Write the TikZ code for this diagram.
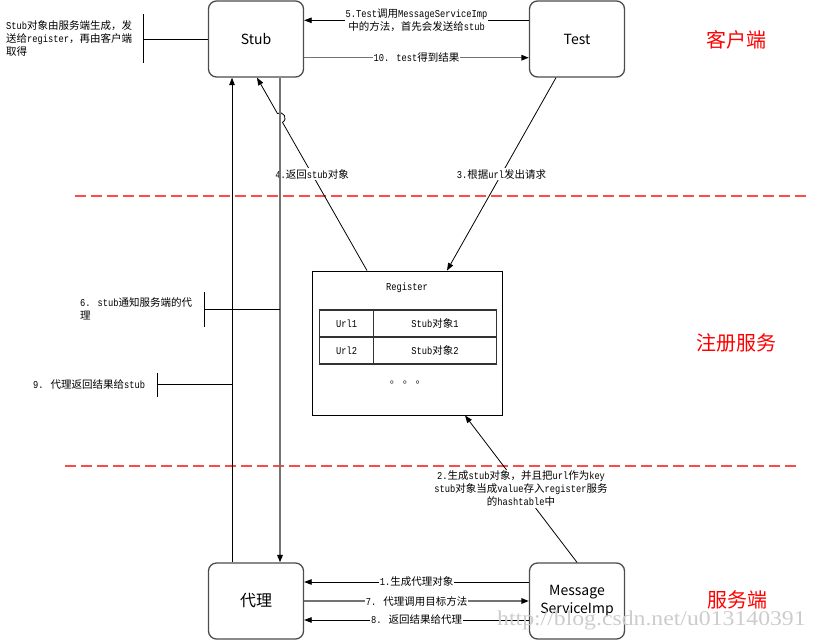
\documentclass[tikz,border=0pt]{standalone}
\usepackage{fontspec}
\usetikzlibrary{arrows.meta,calc}
\newfontfamily\cj{Noto Sans CJK SC}
\newfontfamily\mo{Liberation Mono}[FakeStretch=0.833]
\newfontfamily\wmfont{Liberation Serif}[FakeStretch=1.13]
\newcommand\C[1]{{\cj #1}}
\definecolor{sepred}{HTML}{FF4A4A}
\begin{document}
\begin{tikzpicture}[x=1pt,y=-1pt,
 box/.style={draw=black!70, line width=1.3pt, rounded corners=8pt, minimum width=95pt, minimum height=76pt, inner sep=0pt, font=\cj\fontsize{14}{18}\selectfont, align=center},
 conn/.style={draw=black, line width=0.8pt},
 arr/.style={conn, -{Triangle[length=7.5pt,width=5.5pt,color=black]}},
 garr/.style={arr, draw=black!55, line width=1.5pt},
 lab/.style={fill=white, inner sep=1pt, font=\mo\fontsize{10.5}{13}\selectfont, align=center},
 note/.style={inner sep=0pt, font=\mo\fontsize{10.5}{13}\selectfont, align=left},
 zone/.style={text=red, font=\cj\fontsize{20}{24}\selectfont},
 dashpiece/.style={fill=sepred, draw=none},
 cell/.style={draw=black!80, line width=1.2pt, minimum height=27pt, inner sep=0pt, font=\mo\fontsize{10.5}{13}\selectfont},
]
\useasboundingbox (0,0) rectangle (816,640);
% separators (dashed red lines)
\foreach \x in {75,91,...,795} {\fill[dashpiece] (\x,194.6) rectangle ++(10.5,1.9);}
\foreach \x in {65,81,...,797} {\fill[dashpiece] (\x,464.6) rectangle ++(10.5,1.9);}
% boxes
\node[box] (stub) at (256,39) {Stub};
\node[box] (test) at (577,39) {Test};
\node[box, font=\cj\fontsize{16}{18}\selectfont] (proxy) at (256,601) {代理};
\node[box] (msi) at (577,601) {Message\\ServiceImp};
\node[draw, line width=0.9pt, minimum width=190pt, minimum height=144pt] (reg) at (407,343) {};
\node[font=\mo\fontsize{10.5}{13}\selectfont] (regt) at (407,288) {Register};
\node[cell, minimum width=54pt] (u1) at (346.5,323.5) {Url1};
\node[cell, minimum width=123pt] (s1) at (435,323.5) {Stub\C{对象}1};
\node[cell, minimum width=54pt] (u2) at (346.5,350.5) {Url2};
\node[cell, minimum width=123pt] (s2) at (435,350.5) {Stub\C{对象}2};
\node[font=\cj\fontsize{10.5}{13}\selectfont] (dots) at (408,383) {。 。 。};
% zone labels
\node[zone] (z1) at (736,40) {客户端};
\node[zone] (z2) at (736,343) {注册服务};
\node[zone] (z3) at (737,600) {服务端};
% helper coordinates
\coordinate (xl) at (232,0);
\coordinate (xr) at (280,0);
\coordinate (xrb) at (280,600);
\coordinate (ya) at (0,20.3);
\coordinate (yb) at (0,57.7);
\coordinate (y1) at (0,582);
\coordinate (y7) at (0,601);
\coordinate (y8) at (0,620);
% line 4 with hop
\coordinate (r4) at ($(reg.north)+(-40,0)$);
\coordinate (s4) at ($(stub.south)+(1,0)$);
\coordinate (h) at (intersection of r4--s4 and xr--xrb);
\coordinate (h1) at ($(h)!5pt!(r4)$);
\coordinate (h2) at ($(h)!5pt!(s4)$);
\coordinate (c1) at ($(h1)!6.7pt!-90:(h)$);
\coordinate (c2) at ($(h2)!6.7pt!90:(h)$);
\draw[arr] (r4) -- (h1) .. controls (c1) and (c2) .. (h2) -- (s4);
\node[lab] (l4) at ($(r4)!0.5!(s4)$) {4.\C{返回}stub\C{对象}};
% line 3
\coordinate (t3) at ($(test.south)+(-21,0)$);
\coordinate (r3) at ($(reg.north)+(40,0)$);
\draw[arr] (t3) -- node[lab] (l3) {3.\C{根据}url\C{发出请求}} (r3);
% line 2
\coordinate (r2) at ($(reg.south)+(58,0)$);
\draw[arr] (msi.north) -- node[lab] (l2) {2.\C{生成}stub\C{对象，并且把}url\C{作为}key\\stub\C{对象当成}value\C{存入}register\C{服务}\\\C{的}hashtable\C{中}} (r2);
% top arrows
\draw[arr] (test.west |- ya) -- node[lab] (l5) {5.Test\C{调用}MessageServiceImp\\\C{中的方法，首先会发送给}stub} (stub.east |- ya);
\draw[garr] (stub.east |- yb) -- node[lab] (l10) {10. test\C{得到结果}} (test.west |- yb);
% vertical arrows
\draw[arr] (proxy.north -| xl) -- (stub.south -| xl);
\draw[garr] (stub.south -| xr) -- (proxy.north -| xr);
% bottom arrows
\draw[arr] (msi.west |- y1) -- node[lab] (l1) {1.\C{生成代理对象}} (proxy.east |- y1);
\draw[garr] (proxy.east |- y7) -- node[lab] (l7) {7. \C{代理调用目标方法}} (msi.west |- y7);
\draw[arr] (msi.west |- y8) -- node[lab] (l8) {8. \C{返回结果给代理}} (proxy.east |- y8);
% annotations
\node[note, anchor=west] (n1) at (6,38.5) {Stub\C{对象由服务端生成，发}\\\C{送给}register\C{，再由客户端}\\\C{取得}};
\coordinate (b1t) at (143,14);
\coordinate (b1b) at (143,63);
\coordinate (b1m) at (143,39);
\draw[conn] (b1t) -- (b1b);
\draw[conn] (b1m) -- (stub.west |- b1m);
\node[note, anchor=west] (n6) at (80,309) {6. stub\C{通知服务端的代}\\\C{理}};
\coordinate (b6t) at (204,292);
\coordinate (b6b) at (204,327);
\coordinate (b6m) at (204,309.3);
\draw[conn] (b6t) -- (b6b);
\draw[conn] (b6m) -- (b6m -| xr);
\node[note, anchor=west] (n9) at (33,384.5) {9. \C{代理返回结果给}stub};
\coordinate (b9t) at (157,373);
\coordinate (b9b) at (157,397);
\coordinate (b9m) at (157,384.7);
\draw[conn] (b9t) -- (b9b);
\draw[conn] (b9m) -- (b9m -| xl);
% watermark
\node[text=gray!40, font=\wmfont\fontsize{21}{24}\selectfont, anchor=west, inner sep=0pt] (wm) at (497,620) {http://blog.csdn.net/u013140391};
\end{tikzpicture}
\end{document}
